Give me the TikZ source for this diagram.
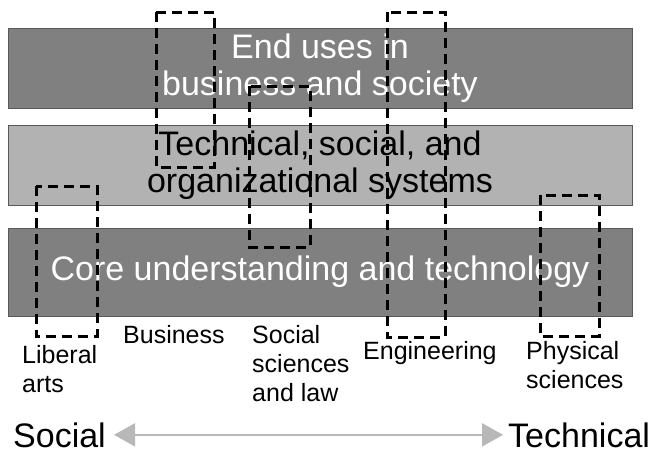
\documentclass[tikz,border=0pt]{standalone}
\usepackage{fontspec}
\setmainfont{Liberation Sans}
\usetikzlibrary{arrows.meta}

\definecolor{bardark}{gray}{0.5}
\definecolor{barlight}{gray}{0.7}
\definecolor{axisgray}{gray}{0.72}

\tikzset{
    layer/.style={draw=black!65, line width=0.8pt, minimum width=624pt, minimum height=80pt,
        inner sep=0pt, align=center, font=\fontsize{34}{37}\selectfont},
    field/.style={draw, line width=3pt, dash pattern=on 10pt off 6pt},
    discipline/.style={anchor=base west, inner sep=0pt, align=left, font=\fontsize{25}{29}\selectfont},
    pole/.style={anchor=base west, inner sep=0pt, font=\fontsize{34}{40}\selectfont},
}

\begin{document}
\begin{tikzpicture}[x=1pt, y=-1pt]
    \useasboundingbox (0,0) rectangle (658,453);

    % the three layers
    \node[layer, fill=bardark, text=white] (uses) at (320,68) {End uses in\\business and society};
    \node[layer, fill=barlight] (systems) at (320,165) {Technical, social, and\\organizational systems};
    \node[layer, fill=bardark, text=white, minimum height=88pt] (core) at (320,272) {Core understanding and technology};
    % (layer nodes sit 1pt low so the text lands a little lower in the bars)

    % reach of each discipline
    \draw[field] (36,186) rectangle (97,336);
    \draw[field] (156,12) rectangle (214,167);
    \draw[field] (249,86) rectangle (310,247);
    \draw[field] (387,12) rectangle (445,337);
    \draw[field] (540,195) rectangle (599,336);

    % base is the last line of each label
    \node[discipline] (liberal) at (22,392) {Liberal\\arts};
    \node[discipline] (business) at (123,343) {Business};
    \node[discipline] (socsci) at (252,401) {Social\\sciences\\and law};
    \node[discipline] (engineering) at (363,359) {Engineering};
    \node[discipline] (physical) at (526,388) {Physical\\sciences};

    % social -- technical axis
    \node[pole] (social) at (13,447) {Social};
    \node[pole] (technical) at (508,447) {Technical};
    \draw[axisgray, line width=2pt, {Triangle[length=21pt, width=23pt]}-{Triangle[length=21pt, width=23pt]}]
        ([xshift=8pt]social.east) -- ([xshift=-5pt]technical.west);
\end{tikzpicture}
\end{document}
